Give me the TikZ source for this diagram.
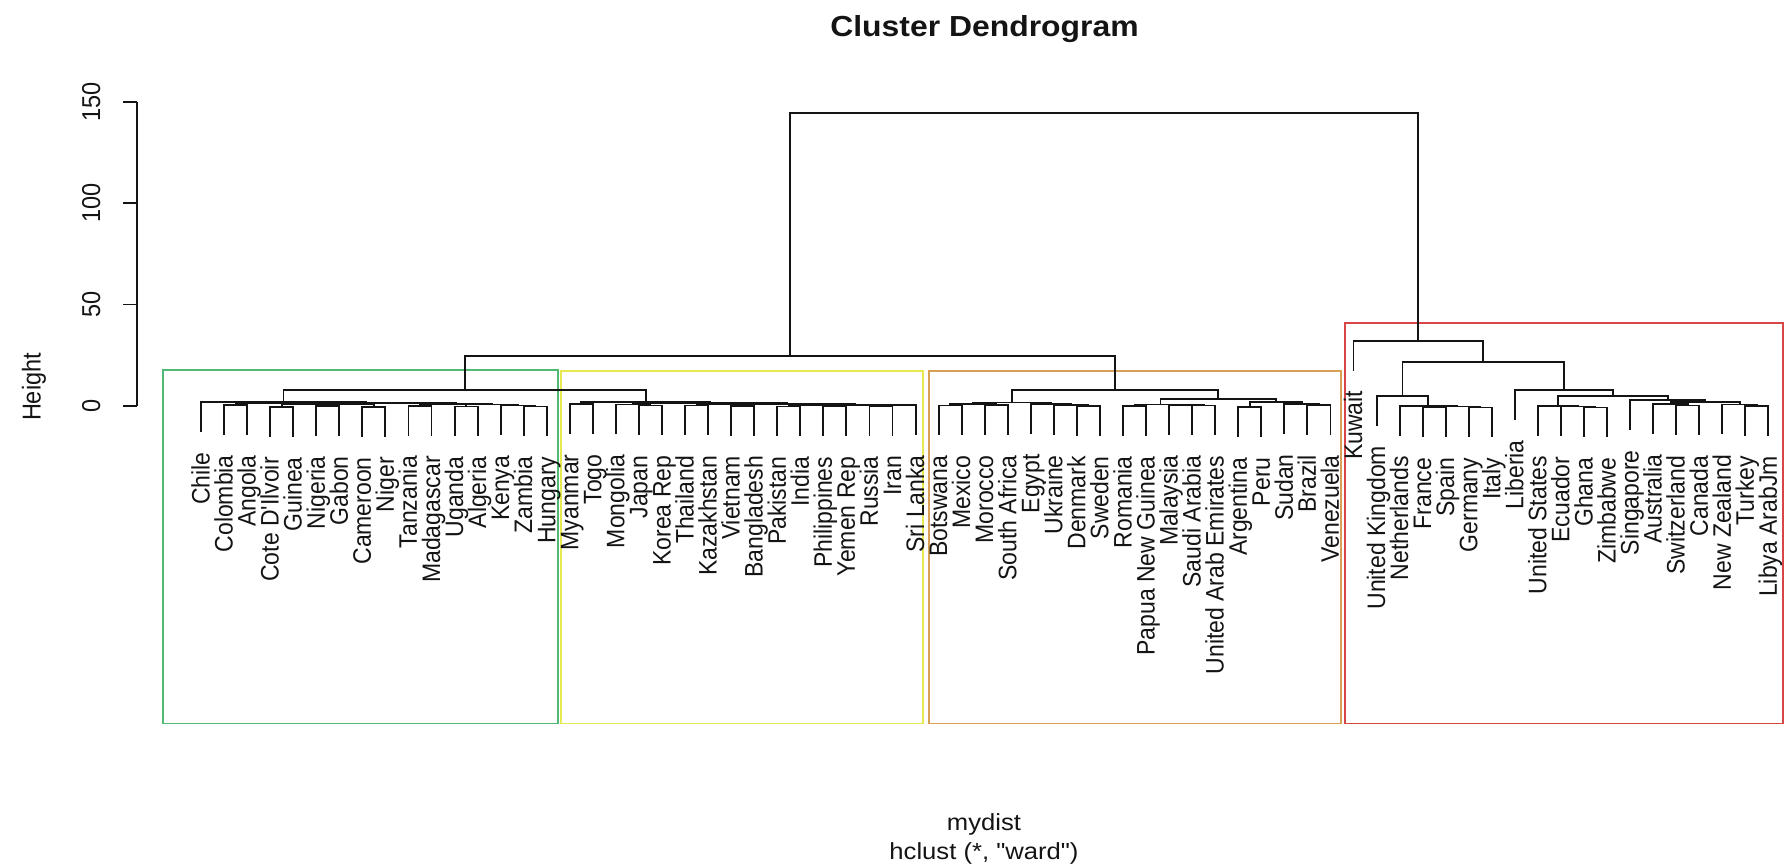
\documentclass[tikz,border=0pt]{standalone}
\usepackage{fontspec}
\newfontfamily\lbl{Liberation Sans}
\usetikzlibrary{calc}
\definecolor{cgreen}{RGB}{80,185,115}
\definecolor{cyellow}{RGB}{232,232,80}
\definecolor{corange}{RGB}{215,160,85}
\definecolor{cred}{RGB}{215,70,70}
\definecolor{ink}{RGB}{20,20,20}
\tikzset{
  dl/.style={line width=1.9pt, draw=ink, line cap=rect},
  lab/.style={xscale=1.1, rotate=90, anchor=base east, inner sep=0pt, text=ink, font=\lbl\fontsize{23}{23}\selectfont},
  ticklab/.style={xscale=1.1, rotate=90, anchor=base, inner sep=0pt, text=ink, font=\lbl\fontsize{23.5}{23.5}\selectfont},
  axl/.style={line width=1.6pt, draw=ink},
  boxl/.style={line width=1.7pt},
  plaintext/.style={xscale=1.1, inner sep=0pt, text=ink, font=\lbl\fontsize{23.3}{23.3}\selectfont},
  titletext/.style={xscale=1.1, inner sep=0pt, text=ink, font=\lbl\bfseries\fontsize{29}{29}\selectfont}
}
\newcommand\lf[3]{\coordinate (#1) at ({201+23.05*#2},0);\expandafter\gdef\csname lt@#1\endcsname{#3}}
\newcommand\childseg[1]{%
  \ifcsname lt@#1\endcsname
    \draw[dl] (#1 |- hy) -- ++(0,29) coordinate (#1b);
    \node[lab] (#1l) at ($(#1b)+(8.5,21)$) {\csname lt@#1\endcsname};
  \else
    \draw[dl] (#1 |- hy) -- (#1);
  \fi}
\newcommand\mrg[4]{%
  \coordinate (hy) at (0,#4);
  \coordinate (#1t) at ($(#2)!0.5!(#3)$);
  \coordinate (#1) at (#1t |- hy);
  \draw[dl] (#2 |- hy) -- (#3 |- hy);
  \childseg{#2}\childseg{#3}}
\begin{document}
\begin{tikzpicture}[x=1pt,y=-1pt]
\useasboundingbox (0,0) rectangle (1785,867);
\fill[white] (0,0) rectangle (1785,867);
% leaves
\lf{chile}{0}{Chile}
\lf{colombia}{1}{Colombia}
\lf{angola}{2}{Angola}
\lf{cote}{3}{Cote D'Ilvoir}
\lf{guinea}{4}{Guinea}
\lf{nigeria}{5}{Nigeria}
\lf{gabon}{6}{Gabon}
\lf{cameroon}{7}{Cameroon}
\lf{niger}{8}{Niger}
\lf{tanzania}{9}{Tanzania}
\lf{madagascar}{10}{Madagascar}
\lf{uganda}{11}{Uganda}
\lf{algeria}{12}{Algeria}
\lf{kenya}{13}{Kenya}
\lf{zambia}{14}{Zambia}
\lf{hungary}{15}{Hungary}
\lf{myanmar}{16}{Myanmar}
\lf{togo}{17}{Togo}
\lf{mongolia}{18}{Mongolia}
\lf{japan}{19}{Japan}
\lf{korea}{20}{Korea Rep}
\lf{thailand}{21}{Thailand}
\lf{kazakh}{22}{Kazakhstan}
\lf{vietnam}{23}{Vietnam}
\lf{bangla}{24}{Bangladesh}
\lf{pakistan}{25}{Pakistan}
\lf{india}{26}{India}
\lf{phil}{27}{Philippines}
\lf{yemen}{28}{Yemen Rep}
\lf{russia}{29}{Russia}
\lf{iran}{30}{Iran}
\lf{srilanka}{31}{Sri Lanka}
\lf{botswana}{32}{Botswana}
\lf{mexico}{33}{Mexico}
\lf{morocco}{34}{Morocco}
\lf{safrica}{35}{South Africa}
\lf{egypt}{36}{Egypt}
\lf{ukraine}{37}{Ukraine}
\lf{denmark}{38}{Denmark}
\lf{sweden}{39}{Sweden}
\lf{romania}{40}{Romania}
\lf{png}{41}{Papua New Guinea}
\lf{malaysia}{42}{Malaysia}
\lf{saudi}{43}{Saudi Arabia}
\lf{uae}{44}{United Arab Emirates}
\lf{argentina}{45}{Argentina}
\lf{peru}{46}{Peru}
\lf{sudan}{47}{Sudan}
\lf{brazil}{48}{Brazil}
\lf{venezuela}{49}{Venezuela}
\lf{kuwait}{50}{Kuwait}
\lf{uk}{51}{United Kingdom}
\lf{nl}{52}{Netherlands}
\lf{france}{53}{France}
\lf{spain}{54}{Spain}
\lf{germany}{55}{Germany}
\lf{italy}{56}{Italy}
\lf{liberia}{57}{Liberia}
\lf{us}{58}{United States}
\lf{ecuador}{59}{Ecuador}
\lf{ghana}{60}{Ghana}
\lf{zimbabwe}{61}{Zimbabwe}
\lf{singapore}{62}{Singapore}
\lf{australia}{63}{Australia}
\lf{swiss}{64}{Switzerland}
\lf{canada}{65}{Canada}
\lf{nz}{66}{New Zealand}
\lf{turkey}{67}{Turkey}
\lf{libya}{68}{Libya ArabJm}
% cluster boxes
\draw[boxl, cgreen] (162.7,370) rectangle (558,723.5);
\draw[boxl, cyellow] (561,371) rectangle (923,723.5);
\draw[boxl, corange] (929,371) rectangle (1341,723.5);
\draw[boxl, cred] (1345,322.7) rectangle (1782.7,723.5);
% green group
\mrg{mCA}{colombia}{angola}{405}
\mrg{mCG}{cote}{guinea}{407}
\mrg{mNG}{nigeria}{gabon}{406}
\mrg{mCN}{cameroon}{niger}{407}
\mrg{mAtwob}{mNG}{mCN}{404.5}
\mrg{mAtwo}{mCG}{mAtwob}{404}
\mrg{mA}{mCA}{mAtwo}{403.5}
\mrg{mTM}{tanzania}{madagascar}{406}
\mrg{mUA}{uganda}{algeria}{406.5}
\mrg{mZH}{zambia}{hungary}{406.5}
\mrg{mKZ}{kenya}{mZH}{405.5}
\mrg{mBtwo}{mUA}{mKZ}{404.5}
\mrg{mB}{mTM}{mBtwo}{404}
\mrg{mGA}{mA}{mB}{403}
\mrg{mG}{chile}{mGA}{402.3}
% yellow group
\mrg{mMT}{myanmar}{togo}{404.3}
\mrg{mJK}{japan}{korea}{405.5}
\mrg{mMJK}{mongolia}{mJK}{404.5}
\mrg{mTK}{thailand}{kazakh}{405.5}
\mrg{mVB}{vietnam}{bangla}{405.8}
\mrg{mPI}{pakistan}{india}{406.5}
\mrg{mPY}{phil}{yemen}{406.5}
\mrg{mRI}{russia}{iran}{406}
\mrg{mRIS}{mRI}{srilanka}{405}
\mrg{mYa}{mTK}{mVB}{404.5}
\mrg{mYb}{mPI}{mPY}{405.5}
\mrg{mYc}{mYb}{mRIS}{404.6}
\mrg{mYd}{mYa}{mYc}{403.8}
\mrg{mYe}{mMJK}{mYd}{403.2}
\mrg{mY}{mMT}{mYe}{402.3}
\mrg{mGY}{mG}{mY}{390}
% orange group
\mrg{mBM}{botswana}{mexico}{405.5}
\mrg{mMS}{morocco}{safrica}{405}
\mrg{mOa}{mBM}{mMS}{404}
\mrg{mDS}{denmark}{sweden}{406}
\mrg{mUDS}{ukraine}{mDS}{405}
\mrg{mOb}{egypt}{mUDS}{404.3}
\mrg{mOone}{mOa}{mOb}{402.5}
\mrg{mRP}{romania}{png}{406}
\mrg{mSU}{saudi}{uae}{405.5}
\mrg{mMSU}{malaysia}{mSU}{405}
\mrg{mOc}{mRP}{mMSU}{404.5}
\mrg{mAP}{argentina}{peru}{407.3}
\mrg{mBV}{brazil}{venezuela}{405}
\mrg{mSBV}{sudan}{mBV}{404}
\mrg{mOd}{mAP}{mSBV}{402.3}
\mrg{mOtwo}{mOc}{mOd}{399.3}
\mrg{mO}{mOone}{mOtwo}{390}
\mrg{mL}{mGY}{mO}{356}
% red group
\mrg{mFS}{france}{spain}{407.5}
\mrg{mGI}{germany}{italy}{407.5}
\mrg{mFSGI}{mFS}{mGI}{406.5}
\mrg{mNL}{nl}{mFSGI}{406}
\mrg{mRL}{uk}{mNL}{395.7}
\mrg{mGZ}{ghana}{zimbabwe}{407.5}
\mrg{mEGZ}{ecuador}{mGZ}{406.5}
\mrg{mUSG}{us}{mEGZ}{406}
\mrg{mSC}{swiss}{canada}{405.5}
\mrg{mAUa}{australia}{mSC}{404}
\mrg{mTL}{turkey}{libya}{406}
\mrg{mAUb}{nz}{mTL}{404.5}
\mrg{mAU}{mAUa}{mAUb}{402}
\mrg{mSA}{singapore}{mAU}{400}
\mrg{mRRa}{mUSG}{mSA}{395.7}
\mrg{mRR}{liberia}{mRRa}{390}
\mrg{mRa}{mRL}{mRR}{362.3}
\mrg{mR}{kuwait}{mRa}{340.7}
\mrg{mRoot}{mL}{mR}{113}
% axis
\coordinate (ax0) at (136.7,405.7);
\coordinate (ax150) at (136.7,101.7);
\draw[axl] (ax0) -- (ax150);
\foreach \v/\yy in {0/405.7, 50/304.4, 100/203.0, 150/101.7}{
  \draw[axl] (136.7,\yy) -- (123,\yy);
  \node[ticklab] (tick\v) at (100,\yy) {\v};
}
\node[ticklab] (ylab) at (40.5,387) {Height};
% titles
\node[titletext, anchor=base] (title) at (984.5,36.7) {Cluster Dendrogram};
\node[plaintext, anchor=base] (xlab) at (984,830) {mydist};
\node[plaintext, anchor=base] (sub) at (984,859.5) {hclust (*, "ward")};
\end{tikzpicture}
\end{document}
